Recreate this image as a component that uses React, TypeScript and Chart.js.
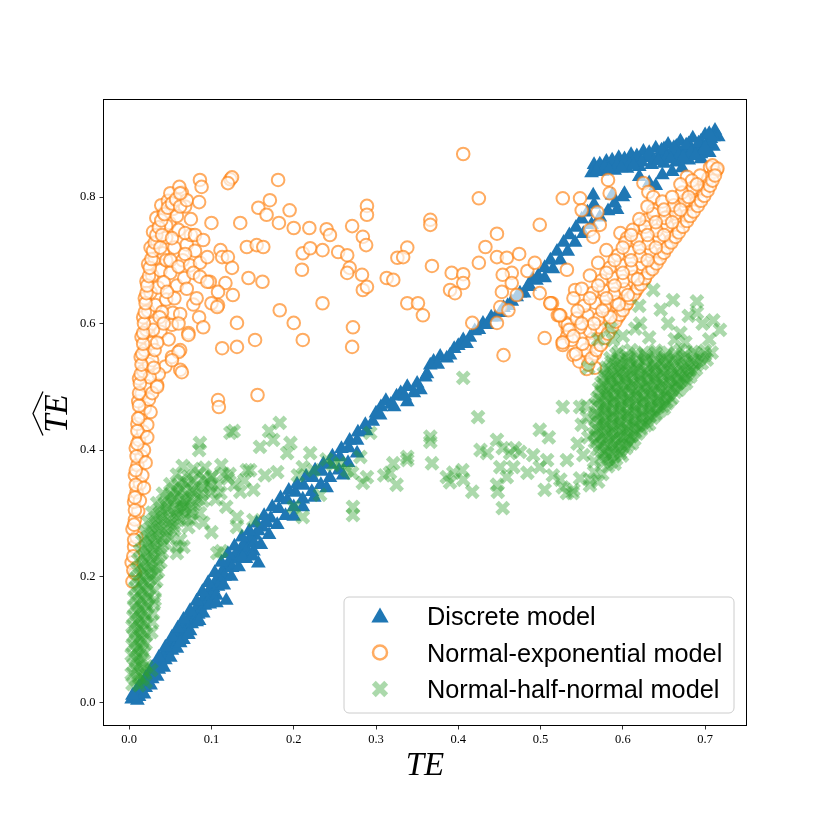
import React, { useEffect, useRef } from "react";
import { Chart, registerables } from "chart.js";

Chart.register(...registerables);

type P = [number, number];

const seriesLabels = ["Discrete model", "Normal-exponential model", "Normal-half-normal model"];
const xTickValues = [0, 0.1, 0.2, 0.3, 0.4, 0.5, 0.6, 0.7];
const yTickValues = [0, 0.2, 0.4, 0.6, 0.8];
const xAxisLabel = "TE";
const yAxisLabel = "TE";

// ---------- Discrete model ----------
const discreteBandA: P[] = [
  [0.004, 0.012], [0.012, 0.026], [0.02, 0.04], [0.028, 0.056], [0.036, 0.072], [0.044, 0.088],
  [0.052, 0.104], [0.059, 0.118], [0.066, 0.132], [0.074, 0.146], [0.082, 0.161], [0.089, 0.176],
  [0.096, 0.19], [0.104, 0.206], [0.112, 0.222], [0.12, 0.236], [0.128, 0.248], [0.137, 0.262],
  [0.146, 0.272], [0.155, 0.284], [0.164, 0.296], [0.174, 0.31], [0.184, 0.324], [0.194, 0.336],
  [0.204, 0.346], [0.215, 0.358], [0.226, 0.368], [0.236, 0.378], [0.247, 0.39], [0.258, 0.402],
  [0.268, 0.415], [0.278, 0.428], [0.287, 0.44],
];
const discreteBandB: P[] = [
  [0.01, 0.004], [0.018, 0.014], [0.026, 0.028], [0.034, 0.042], [0.042, 0.056], [0.05, 0.072],
  [0.058, 0.086], [0.066, 0.1], [0.074, 0.114], [0.082, 0.128], [0.09, 0.142], [0.098, 0.156],
  [0.106, 0.17], [0.115, 0.186], [0.124, 0.2], [0.133, 0.215], [0.142, 0.228], [0.151, 0.24],
  [0.16, 0.25], [0.17, 0.266], [0.18, 0.282], [0.19, 0.296], [0.2, 0.31], [0.211, 0.322],
  [0.222, 0.334], [0.233, 0.345], [0.244, 0.356], [0.255, 0.368], [0.266, 0.38], [0.277, 0.395],
];
const discreteBandC: P[] = [
  [0.003, 0.006], [0.008, 0.009], [0.014, 0.02], [0.022, 0.034], [0.03, 0.049], [0.038, 0.066],
  [0.046, 0.082], [0.054, 0.097], [0.062, 0.111], [0.07, 0.126], [0.078, 0.138], [0.086, 0.153],
  [0.094, 0.167], [0.102, 0.182], [0.11, 0.198], [0.118, 0.214], [0.126, 0.227], [0.135, 0.242],
  [0.144, 0.254], [0.153, 0.265], [0.162, 0.278], [0.172, 0.292], [0.182, 0.307], [0.192, 0.321],
  [0.202, 0.333], [0.212, 0.344], [0.223, 0.356], [0.234, 0.366], [0.245, 0.377], [0.256, 0.389],
  [0.267, 0.403], [0.277, 0.415], [0.288, 0.43],
];
const discreteBandFill: P[] = [
  [0.008, 0.018], [0.017, 0.031], [0.025, 0.044], [0.033, 0.06], [0.041, 0.076], [0.049, 0.091],
  [0.057, 0.106], [0.065, 0.12], [0.073, 0.134], [0.081, 0.148], [0.089, 0.162], [0.097, 0.177],
  [0.105, 0.192], [0.113, 0.208], [0.121, 0.222], [0.13, 0.236], [0.139, 0.25], [0.148, 0.26],
  [0.157, 0.272], [0.167, 0.285], [0.012, 0.01], [0.02, 0.024], [0.028, 0.038], [0.036, 0.053],
  [0.044, 0.068], [0.052, 0.083], [0.06, 0.098], [0.068, 0.112], [0.076, 0.125], [0.084, 0.14],
  [0.092, 0.154], [0.1, 0.169], [0.108, 0.184], [0.116, 0.2], [0.125, 0.214], [0.134, 0.228],
  [0.143, 0.241], [0.152, 0.252],
];
const discreteBandSteps: P[] = [
  [0.106, 0.158], [0.118, 0.162], [0.138, 0.23], [0.15, 0.232], [0.157, 0.221], [0.211, 0.31],
  [0.2, 0.295], [0.225, 0.325], [0.24, 0.34], [0.26, 0.36], [0.062, 0.095], [0.072, 0.108],
  [0.085, 0.13],
];
const discreteMiddle: P[] = [
  [0.296, 0.445], [0.3, 0.458], [0.306, 0.468], [0.312, 0.478], [0.318, 0.472], [0.325, 0.485],
  [0.33, 0.49], [0.338, 0.5], [0.338, 0.476], [0.346, 0.49], [0.354, 0.495], [0.36, 0.515],
  [0.366, 0.534], [0.37, 0.54], [0.378, 0.548], [0.386, 0.545], [0.395, 0.56], [0.406, 0.574],
  [0.414, 0.578], [0.42, 0.588], [0.43, 0.6], [0.44, 0.61], [0.451, 0.617], [0.46, 0.628],
  [0.471, 0.642], [0.48, 0.648], [0.487, 0.658], [0.495, 0.668],
  [0.305, 0.455], [0.322, 0.468], [0.335, 0.485], [0.35, 0.505], [0.362, 0.52], [0.375, 0.535],
  [0.39, 0.55], [0.4, 0.565], [0.41, 0.568], [0.425, 0.59], [0.435, 0.598], [0.445, 0.61],
  [0.455, 0.625], [0.465, 0.635], [0.475, 0.648], [0.485, 0.66], [0.49, 0.67],
];
const discreteUpperLine: P[] = [
  [0.497, 0.675], [0.505, 0.688], [0.512, 0.7], [0.52, 0.714], [0.528, 0.728], [0.535, 0.74],
  [0.543, 0.752], [0.55, 0.765], [0.557, 0.776], [0.565, 0.788], [0.505, 0.672], [0.515, 0.686],
  [0.524, 0.7], [0.533, 0.714], [0.542, 0.728], [0.552, 0.742], [0.562, 0.756], [0.572, 0.768],
  [0.582, 0.778], [0.59, 0.79], [0.6, 0.8],
];
const discreteCluster: P[] = [
  [0.565, 0.851], [0.58, 0.856], [0.595, 0.862], [0.61, 0.867], [0.625, 0.872], [0.64, 0.877],
  [0.655, 0.883], [0.67, 0.888], [0.685, 0.893], [0.7, 0.898], [0.712, 0.905],
  [0.562, 0.838], [0.575, 0.84], [0.59, 0.842], [0.605, 0.845], [0.62, 0.848], [0.635, 0.851],
  [0.65, 0.853], [0.665, 0.855], [0.68, 0.858], [0.695, 0.86], [0.705, 0.87], [0.71, 0.88],
  [0.57, 0.845], [0.585, 0.849], [0.6, 0.853], [0.615, 0.858], [0.63, 0.862], [0.645, 0.866],
  [0.66, 0.87], [0.675, 0.874], [0.69, 0.878], [0.703, 0.885], [0.65, 0.876], [0.665, 0.88],
  [0.68, 0.884], [0.695, 0.888], [0.68, 0.866], [0.695, 0.868], [0.716, 0.895],
  [0.564, 0.803], [0.587, 0.803], [0.602, 0.805], [0.593, 0.78], [0.632, 0.822], [0.64, 0.818],
  [0.648, 0.835], [0.672, 0.846], [0.62, 0.832], [0.66, 0.84],
  [0.572, 0.852], [0.587, 0.858], [0.602, 0.86], [0.617, 0.865], [0.632, 0.87], [0.647, 0.874],
  [0.662, 0.878], [0.677, 0.882], [0.692, 0.885], [0.707, 0.892], [0.578, 0.848], [0.593, 0.85],
  [0.608, 0.851], [0.623, 0.855], [0.638, 0.858], [0.653, 0.862], [0.668, 0.865], [0.683, 0.87],
  [0.698, 0.874], [0.71, 0.895], [0.568, 0.84], [0.583, 0.843], [0.598, 0.846], [0.613, 0.85],
  [0.643, 0.857], [0.658, 0.86], [0.673, 0.862], [0.688, 0.865], [0.7, 0.878], [0.705, 0.9],
];

// ---------- Normal-exponential model ----------
const expCurve: P[] = [
  [0.004, 0.192], [0.007, 0.205], [0.003, 0.222], [0.006, 0.247], [0.009, 0.262], [0.004, 0.275],
  [0.007, 0.29], [0.011, 0.303], [0.006, 0.318], [0.009, 0.333], [0.013, 0.347], [0.007, 0.36],
  [0.01, 0.376], [0.015, 0.39], [0.008, 0.403], [0.012, 0.416], [0.017, 0.429], [0.01, 0.441],
  [0.014, 0.453], [0.019, 0.466], [0.011, 0.477], [0.015, 0.489], [0.021, 0.501], [0.012, 0.513],
  [0.017, 0.525], [0.024, 0.536], [0.014, 0.547], [0.019, 0.558], [0.027, 0.569], [0.015, 0.579],
  [0.021, 0.59], [0.029, 0.6], [0.017, 0.61], [0.023, 0.62], [0.032, 0.629], [0.019, 0.64],
  [0.026, 0.649], [0.035, 0.657], [0.021, 0.667], [0.028, 0.676], [0.038, 0.684], [0.023, 0.694],
  [0.031, 0.703], [0.041, 0.711], [0.026, 0.72], [0.034, 0.729], [0.045, 0.736], [0.029, 0.745],
  [0.037, 0.753], [0.049, 0.759], [0.033, 0.767], [0.042, 0.774], [0.053, 0.781], [0.039, 0.787],
  [0.047, 0.794], [0.058, 0.799], [0.064, 0.807], [0.05, 0.806],
  [0.034, 0.503], [0.044, 0.532], [0.062, 0.527], [0.052, 0.547], [0.062, 0.558], [0.028, 0.542],
  [0.072, 0.585], [0.038, 0.587], [0.029, 0.59], [0.052, 0.598], [0.053, 0.617], [0.045, 0.638],
  [0.058, 0.66], [0.05, 0.68], [0.065, 0.7], [0.055, 0.72], [0.07, 0.725], [0.06, 0.748],
  [0.075, 0.765], [0.045, 0.7], [0.04, 0.618], [0.031, 0.558], [0.024, 0.48], [0.022, 0.44],
  [0.018, 0.4], [0.016, 0.36], [0.013, 0.32], [0.042, 0.665], [0.055, 0.64], [0.067, 0.672],
  [0.062, 0.615], [0.048, 0.575], [0.036, 0.52], [0.025, 0.515], [0.045, 0.755], [0.068, 0.785],
];
const expCurveEdge: P[] = [
  [0.005, 0.21], [0.005, 0.232], [0.006, 0.258], [0.006, 0.282], [0.007, 0.305], [0.007, 0.325],
  [0.008, 0.345], [0.008, 0.368], [0.009, 0.39], [0.01, 0.41], [0.01, 0.43], [0.011, 0.45],
  [0.012, 0.47], [0.012, 0.49], [0.013, 0.505], [0.014, 0.52], [0.015, 0.535], [0.016, 0.552],
  [0.017, 0.568], [0.017, 0.585], [0.018, 0.6], [0.019, 0.618], [0.02, 0.632], [0.021, 0.648],
  [0.022, 0.66], [0.024, 0.675], [0.025, 0.688], [0.027, 0.702], [0.029, 0.715], [0.031, 0.728],
  [0.033, 0.74], [0.036, 0.752], [0.039, 0.763], [0.043, 0.773], [0.047, 0.783], [0.052, 0.79],
  [0.057, 0.796],
  [0.018, 0.34], [0.02, 0.38], [0.022, 0.42], [0.026, 0.46], [0.028, 0.49], [0.03, 0.53],
  [0.034, 0.57], [0.037, 0.61], [0.042, 0.6], [0.046, 0.65], [0.05, 0.7], [0.038, 0.72],
  [0.04, 0.74], [0.052, 0.735], [0.058, 0.77], [0.062, 0.785], [0.07, 0.795], [0.075, 0.74],
  [0.08, 0.715], [0.068, 0.71], [0.06, 0.69], [0.07, 0.655], [0.078, 0.63], [0.06, 0.6],
  [0.085, 0.61],
];
const expLeftScatter: P[] = [
  [0.181, 0.827], [0.123, 0.828], [0.125, 0.831], [0.12, 0.822], [0.086, 0.827], [0.088, 0.816],
  [0.061, 0.816], [0.062, 0.806], [0.085, 0.792], [0.157, 0.783], [0.171, 0.795], [0.167, 0.772],
  [0.195, 0.779], [0.1, 0.759], [0.135, 0.759], [0.182, 0.759], [0.2, 0.751], [0.219, 0.751],
  [0.24, 0.749], [0.244, 0.74], [0.271, 0.754], [0.289, 0.786], [0.289, 0.772], [0.284, 0.737],
  [0.288, 0.724], [0.068, 0.743], [0.08, 0.74], [0.09, 0.732], [0.143, 0.721], [0.155, 0.724],
  [0.163, 0.721], [0.211, 0.711], [0.22, 0.719], [0.235, 0.716], [0.254, 0.713], [0.265, 0.708],
  [0.268, 0.688], [0.265, 0.68], [0.283, 0.677], [0.284, 0.653], [0.289, 0.658], [0.313, 0.672],
  [0.321, 0.669], [0.326, 0.704], [0.21, 0.685], [0.145, 0.672], [0.162, 0.666], [0.111, 0.716],
  [0.113, 0.705], [0.12, 0.705], [0.125, 0.688], [0.117, 0.664], [0.098, 0.666], [0.074, 0.692],
  [0.086, 0.696], [0.095, 0.705], [0.078, 0.68], [0.086, 0.674], [0.095, 0.666], [0.108, 0.65],
  [0.108, 0.629], [0.126, 0.645], [0.082, 0.64], [0.1, 0.632], [0.107, 0.626], [0.131, 0.601],
  [0.09, 0.594], [0.072, 0.582], [0.183, 0.621], [0.2, 0.601], [0.211, 0.574], [0.235, 0.632],
  [0.272, 0.594], [0.271, 0.563], [0.113, 0.561], [0.131, 0.563], [0.153, 0.574], [0.06, 0.555],
  [0.052, 0.542], [0.064, 0.523], [0.034, 0.5], [0.108, 0.479], [0.109, 0.468], [0.156, 0.487],
];
const expRightScatter: P[] = [
  [0.406, 0.868], [0.425, 0.798], [0.366, 0.764], [0.366, 0.756], [0.338, 0.72], [0.333, 0.705],
  [0.368, 0.691], [0.392, 0.68], [0.406, 0.678], [0.406, 0.664], [0.39, 0.653], [0.396, 0.648],
  [0.425, 0.696], [0.433, 0.721], [0.447, 0.742], [0.447, 0.705], [0.459, 0.704], [0.474, 0.71],
  [0.465, 0.68], [0.454, 0.677], [0.484, 0.683], [0.493, 0.696], [0.499, 0.756], [0.338, 0.632],
  [0.351, 0.632], [0.357, 0.613], [0.417, 0.601], [0.447, 0.601], [0.453, 0.65], [0.465, 0.664],
  [0.451, 0.626], [0.461, 0.621], [0.471, 0.645], [0.499, 0.648], [0.514, 0.632], [0.532, 0.685],
  [0.542, 0.653], [0.54, 0.64], [0.505, 0.577], [0.455, 0.55], [0.521, 0.613], [0.53, 0.601],
  [0.533, 0.59], [0.532, 0.579], [0.527, 0.57], [0.527, 0.798], [0.548, 0.798], [0.55, 0.779],
  [0.582, 0.827], [0.584, 0.806], [0.625, 0.822], [0.631, 0.808], [0.637, 0.8], [0.569, 0.776],
  [0.572, 0.756], [0.56, 0.748], [0.564, 0.737], [0.621, 0.756], [0.597, 0.743], [0.605, 0.735],
  [0.629, 0.764], [0.637, 0.779], [0.678, 0.832], [0.706, 0.847], [0.714, 0.843], [0.702, 0.824],
  [0.69, 0.811], [0.682, 0.806], [0.678, 0.795], [0.67, 0.784], [0.661, 0.779], [0.654, 0.768],
  [0.649, 0.759], [0.566, 0.53], [0.54, 0.55], [0.527, 0.566], [0.533, 0.598], [0.524, 0.613],
  [0.512, 0.632], [0.556, 0.55], [0.562, 0.566], [0.569, 0.59],
];
const expTriangle: P[] = [
  [0.556, 0.528], [0.547, 0.54],
  [0.566, 0.552], [0.555, 0.558], [0.543, 0.552],
  [0.575, 0.57], [0.563, 0.575], [0.551, 0.568], [0.538, 0.574], [0.527, 0.57],
  [0.584, 0.59], [0.572, 0.594], [0.56, 0.588], [0.548, 0.594], [0.535, 0.59],
  [0.594, 0.61], [0.582, 0.614], [0.57, 0.607], [0.557, 0.613], [0.544, 0.608], [0.523, 0.613],
  [0.604, 0.63], [0.591, 0.634], [0.578, 0.627], [0.566, 0.633], [0.553, 0.628], [0.512, 0.632],
  [0.615, 0.65], [0.602, 0.654], [0.589, 0.647], [0.576, 0.653], [0.563, 0.648], [0.55, 0.655],
  [0.626, 0.67], [0.613, 0.674], [0.6, 0.667], [0.587, 0.673], [0.574, 0.668], [0.56, 0.676],
  [0.636, 0.69], [0.623, 0.694], [0.61, 0.687], [0.597, 0.693], [0.584, 0.688], [0.57, 0.696],
  [0.647, 0.71], [0.634, 0.714], [0.621, 0.707], [0.608, 0.713], [0.594, 0.708], [0.58, 0.716],
  [0.657, 0.73], [0.644, 0.734], [0.631, 0.727], [0.617, 0.733], [0.603, 0.728],
  [0.667, 0.75], [0.654, 0.754], [0.641, 0.747], [0.627, 0.753], [0.612, 0.748],
  [0.677, 0.77], [0.664, 0.774], [0.651, 0.767], [0.637, 0.773],
  [0.688, 0.79], [0.675, 0.794], [0.662, 0.787], [0.648, 0.793],
  [0.697, 0.81], [0.685, 0.814], [0.672, 0.807],
  [0.704, 0.83], [0.694, 0.834], [0.684, 0.826],
  [0.711, 0.84], [0.709, 0.85], [0.715, 0.845],
];
const expTriangleEdge: P[] = [
  [0.558, 0.535], [0.562, 0.545], [0.568, 0.558], [0.573, 0.566], [0.578, 0.577], [0.582, 0.584],
  [0.587, 0.595], [0.591, 0.603], [0.596, 0.614], [0.6, 0.621], [0.605, 0.632], [0.609, 0.64],
  [0.613, 0.646], [0.618, 0.656], [0.622, 0.662], [0.627, 0.672], [0.631, 0.68], [0.636, 0.686],
  [0.641, 0.695], [0.645, 0.703], [0.65, 0.712], [0.654, 0.72], [0.659, 0.728], [0.664, 0.737],
  [0.668, 0.744], [0.673, 0.753], [0.678, 0.762], [0.682, 0.77], [0.686, 0.777], [0.691, 0.786],
  [0.695, 0.794], [0.699, 0.802], [0.703, 0.81], [0.706, 0.818], [0.709, 0.826], [0.712, 0.834],
  [0.585, 0.61], [0.595, 0.63], [0.606, 0.645], [0.618, 0.67], [0.63, 0.7], [0.64, 0.72],
  [0.65, 0.74], [0.66, 0.76], [0.67, 0.78], [0.68, 0.8], [0.69, 0.82], [0.58, 0.64],
  [0.59, 0.66], [0.6, 0.68], [0.61, 0.7], [0.62, 0.72], [0.63, 0.74], [0.64, 0.76],
  [0.65, 0.78], [0.66, 0.8], [0.67, 0.82], [0.565, 0.6], [0.575, 0.62], [0.56, 0.64],
  [0.57, 0.66], [0.58, 0.68], [0.59, 0.7], [0.6, 0.72], [0.61, 0.74], [0.62, 0.765],
  [0.63, 0.785], [0.545, 0.62], [0.55, 0.6], [0.54, 0.58],
];

// ---------- Normal-half-normal model ----------
const halfLeftCurve: P[] = [
  [0.004, 0.03], [0.012, 0.028], [0.02, 0.033],
  [0.003, 0.046], [0.011, 0.044], [0.019, 0.048], [0.027, 0.052],
  [0.005, 0.06], [0.013, 0.062], [0.021, 0.058],
  [0.003, 0.076], [0.011, 0.074], [0.018, 0.079],
  [0.004, 0.091], [0.012, 0.089], [0.02, 0.094],
  [0.005, 0.106], [0.013, 0.104], [0.021, 0.108], [0.027, 0.112],
  [0.004, 0.121], [0.012, 0.119], [0.02, 0.124], [0.028, 0.128],
  [0.005, 0.136], [0.013, 0.134], [0.022, 0.138], [0.029, 0.142],
  [0.006, 0.151], [0.014, 0.149], [0.023, 0.153], [0.03, 0.157],
  [0.006, 0.166], [0.015, 0.164], [0.024, 0.168], [0.031, 0.163],
  [0.007, 0.181], [0.016, 0.179], [0.025, 0.183], [0.031, 0.178],
  [0.008, 0.196], [0.017, 0.194], [0.026, 0.198], [0.033, 0.193],
  [0.009, 0.211], [0.018, 0.209], [0.027, 0.213], [0.035, 0.208],
  [0.011, 0.226], [0.02, 0.224], [0.029, 0.228], [0.038, 0.223],
  [0.013, 0.241], [0.022, 0.239], [0.031, 0.243], [0.04, 0.238],
  [0.016, 0.256], [0.025, 0.254], [0.034, 0.258], [0.043, 0.253],
  [0.019, 0.271], [0.028, 0.269], [0.037, 0.273], [0.046, 0.268], [0.055, 0.274],
  [0.023, 0.286], [0.032, 0.284], [0.041, 0.288], [0.05, 0.283], [0.06, 0.289],
  [0.028, 0.301], [0.037, 0.299], [0.046, 0.303], [0.055, 0.298], [0.064, 0.304], [0.075, 0.3],
  [0.034, 0.316], [0.043, 0.314], [0.052, 0.318], [0.061, 0.313], [0.07, 0.319], [0.08, 0.315], [0.09, 0.32],
  [0.041, 0.331], [0.05, 0.329], [0.059, 0.333], [0.068, 0.328], [0.078, 0.334], [0.088, 0.33], [0.1, 0.335],
  [0.05, 0.346], [0.06, 0.344], [0.07, 0.348], [0.082, 0.343], [0.095, 0.349], [0.108, 0.344],
  [0.058, 0.361], [0.072, 0.358], [0.085, 0.363], [0.1, 0.357], [0.115, 0.362],
];
const halfLeftCurveFill: P[] = [
  [0.008, 0.037], [0.016, 0.038], [0.008, 0.053], [0.016, 0.054], [0.008, 0.068], [0.016, 0.069],
  [0.008, 0.083], [0.016, 0.084], [0.008, 0.098], [0.016, 0.099], [0.008, 0.113], [0.016, 0.114],
  [0.009, 0.128], [0.017, 0.129], [0.01, 0.143], [0.018, 0.144], [0.01, 0.158], [0.019, 0.159],
  [0.011, 0.173], [0.02, 0.174], [0.012, 0.188], [0.021, 0.189], [0.013, 0.203], [0.022, 0.204],
  [0.03, 0.203], [0.015, 0.218], [0.024, 0.219], [0.033, 0.216], [0.017, 0.233], [0.026, 0.234],
  [0.035, 0.231], [0.02, 0.248], [0.029, 0.249], [0.038, 0.246], [0.023, 0.263], [0.032, 0.264],
  [0.041, 0.261], [0.05, 0.262], [0.027, 0.278], [0.036, 0.279], [0.045, 0.276], [0.055, 0.281],
  [0.032, 0.293], [0.041, 0.294], [0.05, 0.291], [0.06, 0.296], [0.07, 0.292], [0.038, 0.308],
  [0.047, 0.309], [0.057, 0.306], [0.066, 0.31], [0.076, 0.307], [0.046, 0.323], [0.055, 0.324],
  [0.064, 0.321], [0.074, 0.325], [0.084, 0.322], [0.054, 0.338], [0.065, 0.339], [0.076, 0.336],
  [0.09, 0.34], [0.064, 0.352], [0.078, 0.352], [0.09, 0.355],
];
const halfLeftCluster: P[] = [
  [0.072, 0.278], [0.086, 0.3], [0.098, 0.342], [0.111, 0.332], [0.135, 0.334], [0.143, 0.368],
  [0.151, 0.337], [0.131, 0.294], [0.151, 0.289], [0.131, 0.278], [0.058, 0.247], [0.062, 0.258],
  [0.066, 0.247], [0.058, 0.237], [0.107, 0.237], [0.112, 0.24], [0.12, 0.355], [0.128, 0.345],
  [0.092, 0.372], [0.078, 0.37], [0.065, 0.375], [0.105, 0.322], [0.118, 0.31], [0.09, 0.285],
  [0.1, 0.27], [0.122, 0.362], [0.14, 0.352], [0.076, 0.29], [0.068, 0.31], [0.112, 0.376],
];
const halfMidScatter: P[] = [
  [0.086, 0.411], [0.123, 0.427], [0.127, 0.43], [0.183, 0.443], [0.159, 0.405], [0.175, 0.416],
  [0.196, 0.411], [0.192, 0.395], [0.22, 0.395], [0.211, 0.373], [0.224, 0.368], [0.248, 0.376],
  [0.256, 0.379], [0.281, 0.389], [0.293, 0.427], [0.2, 0.31], [0.211, 0.294], [0.232, 0.329],
  [0.272, 0.31], [0.272, 0.297], [0.265, 0.368], [0.289, 0.357], [0.284, 0.348], [0.317, 0.364],
  [0.321, 0.379], [0.147, 0.368], [0.165, 0.36], [0.18, 0.365], [0.205, 0.36], [0.24, 0.385],
  [0.17, 0.43], [0.085, 0.4], [0.101, 0.358], [0.31, 0.36], [0.325, 0.345], [0.271, 0.364],
  [0.406, 0.514], [0.424, 0.452], [0.366, 0.421], [0.366, 0.413], [0.338, 0.389], [0.338, 0.384],
  [0.368, 0.379], [0.386, 0.357], [0.394, 0.364], [0.405, 0.368], [0.406, 0.353], [0.39, 0.349],
  [0.417, 0.334], [0.427, 0.4], [0.435, 0.395], [0.447, 0.416], [0.454, 0.403], [0.463, 0.395],
  [0.469, 0.403], [0.475, 0.397], [0.467, 0.373], [0.451, 0.373], [0.459, 0.357], [0.447, 0.345],
  [0.448, 0.334], [0.454, 0.308], [0.499, 0.432], [0.491, 0.392], [0.508, 0.384], [0.499, 0.373],
  [0.484, 0.364], [0.505, 0.337], [0.527, 0.341], [0.539, 0.332], [0.532, 0.384], [0.527, 0.468],
  [0.548, 0.468], [0.556, 0.452],
];
const halfRightCluster: P[] = [
  [0.582, 0.374], [0.59, 0.378],
  [0.574, 0.387], [0.583, 0.39], [0.592, 0.386], [0.599, 0.391],
  [0.569, 0.401], [0.578, 0.398], [0.587, 0.402], [0.596, 0.399], [0.604, 0.403],
  [0.566, 0.413], [0.575, 0.41], [0.585, 0.414], [0.594, 0.411], [0.603, 0.415], [0.611, 0.41],
  [0.565, 0.425], [0.574, 0.422], [0.583, 0.426], [0.592, 0.423], [0.601, 0.427], [0.61, 0.422], [0.618, 0.426],
  [0.567, 0.434], [0.577, 0.438], [0.586, 0.435], [0.595, 0.439], [0.604, 0.434], [0.613, 0.438], [0.622, 0.435], [0.628, 0.439],
  [0.566, 0.449], [0.575, 0.446], [0.584, 0.45], [0.593, 0.447], [0.602, 0.451], [0.611, 0.446], [0.62, 0.45], [0.629, 0.447], [0.636, 0.451],
  [0.568, 0.458], [0.578, 0.462], [0.587, 0.459], [0.596, 0.463], [0.605, 0.458], [0.614, 0.462], [0.623, 0.459], [0.632, 0.463], [0.64, 0.458], [0.645, 0.462],
  [0.567, 0.473], [0.577, 0.47], [0.586, 0.474], [0.595, 0.471], [0.604, 0.475], [0.613, 0.47], [0.622, 0.474], [0.631, 0.471], [0.64, 0.475], [0.649, 0.47], [0.654, 0.474],
  [0.569, 0.482], [0.579, 0.486], [0.588, 0.483], [0.597, 0.487], [0.606, 0.482], [0.615, 0.486], [0.624, 0.483], [0.633, 0.487], [0.642, 0.482], [0.651, 0.486], [0.66, 0.483],
  [0.571, 0.497], [0.58, 0.494], [0.589, 0.498], [0.598, 0.495], [0.607, 0.499], [0.616, 0.494], [0.625, 0.498], [0.634, 0.495], [0.643, 0.499], [0.652, 0.494], [0.661, 0.498], [0.668, 0.495],
  [0.574, 0.506], [0.583, 0.51], [0.592, 0.507], [0.601, 0.511], [0.61, 0.506], [0.619, 0.51], [0.628, 0.507], [0.637, 0.511], [0.646, 0.506], [0.655, 0.51], [0.664, 0.507], [0.672, 0.511], [0.677, 0.506],
  [0.577, 0.521], [0.586, 0.518], [0.595, 0.522], [0.604, 0.519], [0.613, 0.523], [0.622, 0.518], [0.631, 0.522], [0.64, 0.519], [0.649, 0.523], [0.658, 0.518], [0.667, 0.522], [0.676, 0.519], [0.685, 0.523],
  [0.58, 0.53], [0.59, 0.534], [0.6, 0.531], [0.61, 0.535], [0.62, 0.53], [0.63, 0.534], [0.64, 0.531], [0.65, 0.535], [0.66, 0.53], [0.67, 0.534], [0.68, 0.531], [0.69, 0.535],
  [0.585, 0.545], [0.596, 0.542], [0.607, 0.546], [0.618, 0.543], [0.629, 0.547], [0.64, 0.542], [0.651, 0.546], [0.662, 0.543], [0.673, 0.547], [0.684, 0.542], [0.695, 0.546], [0.702, 0.543],
  [0.595, 0.555], [0.61, 0.558], [0.625, 0.554], [0.64, 0.557], [0.655, 0.554], [0.67, 0.558], [0.685, 0.555], [0.7, 0.557], [0.708, 0.554],
];
const halfRightClusterFill: P[] = [
  [0.586, 0.381], [0.579, 0.383],
  [0.578, 0.394], [0.588, 0.396], [0.597, 0.395],
  [0.572, 0.407], [0.582, 0.405], [0.591, 0.408], [0.6, 0.406], [0.607, 0.409],
  [0.57, 0.419], [0.58, 0.417], [0.589, 0.42], [0.598, 0.418], [0.607, 0.421], [0.614, 0.417],
  [0.57, 0.431], [0.579, 0.428], [0.588, 0.432], [0.597, 0.429], [0.606, 0.433], [0.615, 0.428], [0.622, 0.432],
  [0.571, 0.443], [0.58, 0.44], [0.589, 0.444], [0.598, 0.441], [0.607, 0.445], [0.616, 0.44], [0.625, 0.444], [0.632, 0.441],
  [0.57, 0.455], [0.579, 0.452], [0.588, 0.456], [0.597, 0.453], [0.606, 0.457], [0.615, 0.452], [0.624, 0.456], [0.633, 0.453], [0.64, 0.456],
  [0.572, 0.467], [0.581, 0.464], [0.59, 0.468], [0.599, 0.465], [0.608, 0.469], [0.617, 0.464], [0.626, 0.468], [0.635, 0.465], [0.644, 0.469], [0.65, 0.466],
  [0.572, 0.479], [0.581, 0.476], [0.59, 0.48], [0.599, 0.477], [0.608, 0.481], [0.617, 0.476], [0.626, 0.48], [0.635, 0.477], [0.644, 0.481], [0.653, 0.476], [0.658, 0.48],
  [0.574, 0.491], [0.583, 0.488], [0.592, 0.492], [0.601, 0.489], [0.61, 0.493], [0.619, 0.488], [0.628, 0.492], [0.637, 0.489], [0.646, 0.493], [0.655, 0.488], [0.664, 0.492],
  [0.576, 0.503], [0.585, 0.5], [0.594, 0.504], [0.603, 0.501], [0.612, 0.505], [0.621, 0.5], [0.63, 0.504], [0.639, 0.501], [0.648, 0.505], [0.657, 0.5], [0.666, 0.504], [0.672, 0.501],
  [0.578, 0.515], [0.587, 0.512], [0.596, 0.516], [0.605, 0.513], [0.614, 0.517], [0.623, 0.512], [0.632, 0.516], [0.641, 0.513], [0.65, 0.517], [0.659, 0.512], [0.668, 0.516], [0.677, 0.513], [0.682, 0.516],
  [0.582, 0.527], [0.591, 0.524], [0.6, 0.528], [0.609, 0.525], [0.618, 0.529], [0.627, 0.524], [0.636, 0.528], [0.645, 0.525], [0.654, 0.529], [0.663, 0.524], [0.672, 0.528], [0.681, 0.525], [0.689, 0.528],
  [0.586, 0.539], [0.596, 0.536], [0.606, 0.54], [0.616, 0.537], [0.626, 0.541], [0.636, 0.536], [0.646, 0.54], [0.656, 0.537], [0.666, 0.541], [0.676, 0.536], [0.686, 0.54], [0.696, 0.537],
  [0.592, 0.551], [0.604, 0.548], [0.616, 0.552], [0.628, 0.549], [0.64, 0.553], [0.652, 0.548], [0.664, 0.552], [0.676, 0.549], [0.688, 0.553], [0.7, 0.55],
];
const halfRightSparse: P[] = [
  [0.57, 0.575], [0.585, 0.592], [0.6, 0.58], [0.615, 0.592], [0.621, 0.6], [0.632, 0.578],
  [0.637, 0.653], [0.646, 0.622], [0.655, 0.6], [0.661, 0.637], [0.67, 0.585], [0.68, 0.612],
  [0.69, 0.617], [0.697, 0.6], [0.705, 0.575], [0.71, 0.605], [0.718, 0.59], [0.663, 0.575],
  [0.676, 0.57], [0.558, 0.53], [0.555, 0.47], [0.558, 0.42], [0.552, 0.392], [0.565, 0.382],
  [0.575, 0.362], [0.57, 0.35], [0.56, 0.344], [0.548, 0.355], [0.524, 0.353], [0.54, 0.337],
  [0.532, 0.332], [0.56, 0.353], [0.565, 0.365], [0.515, 0.36], [0.51, 0.42], [0.545, 0.41],
  [0.55, 0.44], [0.62, 0.628], [0.69, 0.635], [0.588, 0.574],
];

const X_MIN = -0.0312;
const X_MAX = 0.7503;
const Y_MIN = -0.0356;
const Y_MAX = 0.9542;

const BLUE = "#1f77b4";
const ORANGE_EDGE = "rgba(255,127,14,0.65)";
const ORANGE_FACE = "rgba(255,255,255,0.65)";
const GREEN = "rgba(44,160,44,0.4)";

const toPts = (arr: P[]) => arr.map(([x, y]) => ({ x, y }));

function drawTriangle(ctx: CanvasRenderingContext2D, x: number, y: number, r: number) {
  ctx.beginPath();
  for (let i = 0; i < 3; i++) {
    const a = (i * 2 * Math.PI) / 3;
    const px = x + Math.sin(a) * r;
    const py = y - Math.cos(a) * r;
    if (i === 0) ctx.moveTo(px, py);
    else ctx.lineTo(px, py);
  }
  ctx.closePath();
  ctx.fillStyle = BLUE;
  ctx.fill();
}

const framePlugin = {
  id: "framePlugin",
  afterDraw(chart: any) {
    const { ctx, chartArea: a } = chart;
    ctx.save();
    ctx.strokeStyle = "#000";
    ctx.lineWidth = 1;
    ctx.strokeRect(a.left, a.top, a.right - a.left, a.bottom - a.top);

    ctx.fillStyle = "#000";
    ctx.font = 'italic 33px "Liberation Serif"';
    ctx.textAlign = "center";
    ctx.textBaseline = "alphabetic";
    ctx.fillText(xAxisLabel, (a.left + a.right) / 2, 775);

    ctx.save();
    ctx.translate(67, (a.top + a.bottom) / 2 + 1);
    ctx.rotate(-Math.PI / 2);
    ctx.fillText(yAxisLabel, 0, 0);
    ctx.beginPath();
    ctx.moveTo(-22, -24);
    ctx.lineTo(0, -34);
    ctx.lineTo(22, -24);
    ctx.lineWidth = 1.3;
    ctx.strokeStyle = "#000";
    ctx.stroke();
    ctx.restore();

    const lx = 344, ly = 597, lw = 390, lh = 116, rr = 5;
    ctx.beginPath();
    ctx.moveTo(lx + rr, ly);
    ctx.lineTo(lx + lw - rr, ly);
    ctx.arcTo(lx + lw, ly, lx + lw, ly + rr, rr);
    ctx.lineTo(lx + lw, ly + lh - rr);
    ctx.arcTo(lx + lw, ly + lh, lx + lw - rr, ly + lh, rr);
    ctx.lineTo(lx + rr, ly + lh);
    ctx.arcTo(lx, ly + lh, lx, ly + lh - rr, rr);
    ctx.lineTo(lx, ly + rr);
    ctx.arcTo(lx, ly, lx + rr, ly, rr);
    ctx.closePath();
    ctx.fillStyle = "rgba(255,255,255,0.8)";
    ctx.fill();
    ctx.strokeStyle = "#cccccc";
    ctx.lineWidth = 1;
    ctx.stroke();

    const mx = 380;
    const rowY = [616, 652.5, 689];
    drawTriangle(ctx, mx, rowY[0] + 1.5, 10);

    ctx.beginPath();
    ctx.arc(mx, rowY[1], 7, 0, Math.PI * 2);
    ctx.fillStyle = ORANGE_FACE;
    ctx.fill();
    ctx.strokeStyle = ORANGE_EDGE;
    ctx.lineWidth = 2.5;
    ctx.stroke();

    ctx.beginPath();
    const d = 6.2;
    ctx.moveTo(mx - d, rowY[2] - d);
    ctx.lineTo(mx + d, rowY[2] + d);
    ctx.moveTo(mx + d, rowY[2] - d);
    ctx.lineTo(mx - d, rowY[2] + d);
    ctx.strokeStyle = GREEN;
    ctx.lineWidth = 5.5;
    ctx.stroke();

    ctx.fillStyle = "#000";
    ctx.font = '25.3px "Liberation Sans"';
    ctx.textAlign = "left";
    ctx.textBaseline = "alphabetic";
    const labels = chart.data.datasets.map((ds: any) => ds.label);
    labels.forEach((t: string, i: number) => {
      ctx.fillText(t, 427, rowY[i] + 9);
    });
    ctx.restore();
  },
};

export default function App() {
  const ref = useRef<HTMLCanvasElement | null>(null);

  useEffect(() => {
    if (!ref.current) return;
    const tickFont = { family: '"Liberation Serif"', size: 12.5 };
    const chart = new Chart(ref.current, {
      type: "scatter",
      data: {
        datasets: [
          {
            label: seriesLabels[0],
            data: toPts([
              ...discreteBandC, ...discreteBandFill, ...discreteBandB, ...discreteBandA,
              ...discreteBandSteps, ...discreteMiddle, ...discreteUpperLine, ...discreteCluster,
            ]),
            pointStyle: "triangle",
            pointRadius: 8.5,
            backgroundColor: BLUE,
            borderColor: BLUE,
            borderWidth: 0,
            order: 3,
          },
          {
            label: seriesLabels[1],
            data: toPts([
              ...expCurve, ...expCurveEdge, ...expLeftScatter, ...expRightScatter,
              ...expTriangle, ...expTriangleEdge,
            ]),
            pointStyle: "circle",
            pointRadius: 6.3,
            borderWidth: 2,
            borderColor: ORANGE_EDGE,
            backgroundColor: ORANGE_FACE,
            order: 2,
          },
          {
            label: seriesLabels[2],
            data: toPts([
              ...halfLeftCurve, ...halfLeftCurveFill, ...halfLeftCluster, ...halfMidScatter,
              ...halfRightCluster, ...halfRightClusterFill, ...halfRightSparse,
            ]),
            pointStyle: "crossRot",
            pointRadius: 8,
            borderWidth: 5,
            borderColor: GREEN,
            backgroundColor: GREEN,
            order: 1,
          },
        ],
      },
      options: {
        animation: false,
        responsive: false,
        events: [],
        layout: { padding: { left: 0, top: 99.5, right: 83.5, bottom: 0 } },
        plugins: { legend: { display: false }, tooltip: { enabled: false } },
        scales: {
          x: {
            type: "linear",
            min: X_MIN,
            max: X_MAX,
            afterFit: (s: any) => { s.height = 104.5; },
            afterBuildTicks: (s: any) => { s.ticks = xTickValues.map((v) => ({ value: v })); },
            ticks: {
              callback: (v: any) => Number(v).toFixed(1),
              font: tickFont,
              color: "#000",
              padding: 3,
              maxRotation: 0,
              autoSkip: false,
            },
            grid: { drawOnChartArea: false, drawTicks: true, tickLength: 4, tickColor: "#000", tickWidth: 0.8 },
            border: { display: true, color: "#000", width: 1 },
          },
          y: {
            type: "linear",
            min: Y_MIN,
            max: Y_MAX,
            afterFit: (s: any) => { s.width = 103.5; },
            afterBuildTicks: (s: any) => { s.ticks = yTickValues.map((v) => ({ value: v })); },
            ticks: {
              callback: (v: any) => Number(v).toFixed(1),
              font: tickFont,
              color: "#000",
              padding: 4,
              autoSkip: false,
            },
            grid: { drawOnChartArea: false, drawTicks: true, tickLength: 4, tickColor: "#000", tickWidth: 0.8 },
            border: { display: true, color: "#000", width: 1 },
          },
        },
      },
      plugins: [framePlugin],
    } as any);
    return () => chart.destroy();
  }, []);

  return (
    <div style={{ position: "fixed", left: 0, top: 0, width: 830, height: 830, background: "#fff" }}>
      <canvas ref={ref} width={830} height={830} style={{ display: "block" }} />
    </div>
  );
}
